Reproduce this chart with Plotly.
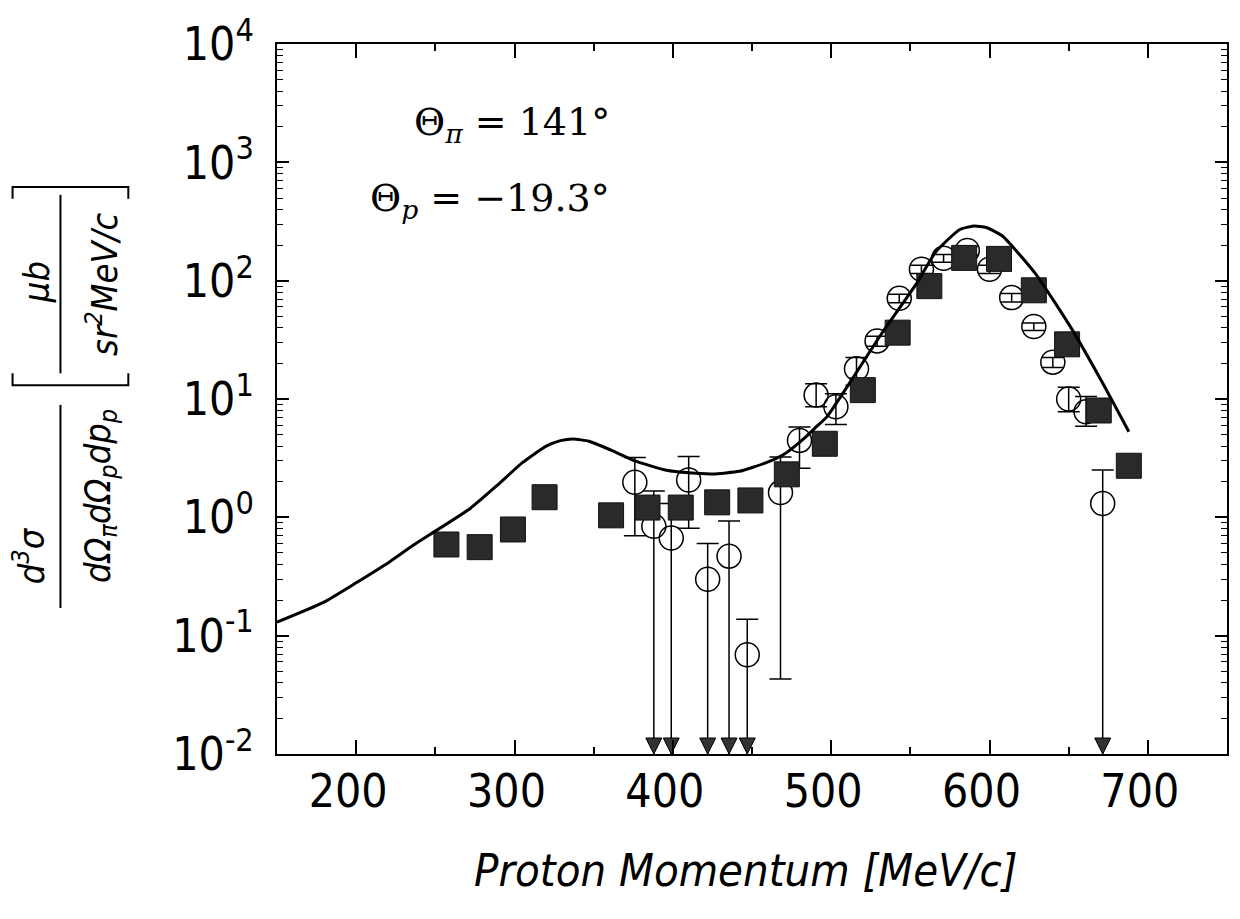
import plotly.graph_objects as go

# ---------------- data ----------------
# theory curve
curve_p = [150, 179, 200, 221, 236, 251, 272, 289, 305, 320, 329, 337, 347, 354, 362, 376,
           396, 410, 425, 442, 459, 470, 484, 491, 497, 502, 512, 532, 554, 566, 581,
           590, 598, 608, 629, 652, 671, 688]
curve_xs = [0.13, 0.19, 0.28, 0.42, 0.58, 0.78, 1.19, 1.86, 2.9, 4.0, 4.45, 4.6, 4.4, 4.05, 3.64, 3.0,
            2.5, 2.38, 2.33, 2.45, 2.9, 3.4, 4.8, 5.9, 7.0, 8.7, 13.9, 36, 95, 175, 270,
            290, 282, 240, 115, 39, 14, 5.3]

# filled squares
sq_p = [257, 278, 299, 319, 361, 384, 405, 428, 449, 472, 496, 520, 542, 562, 584, 606, 628, 649, 669, 688]
sq_xs = [0.59, 0.56, 0.79, 1.48, 1.04, 1.21, 1.21, 1.34, 1.39, 2.31, 4.19, 11.9, 36.4, 90, 156, 153, 83, 29, 8.0, 2.73]

# open circles with error bars
c_p = [376, 410, 468, 480, 490.5, 503, 516, 529, 543, 557, 571, 586, 600, 614, 628, 640, 650, 661]
c_xs = [1.98, 2.07, 1.62, 4.47, 10.8, 8.6, 18, 31, 71, 125, 155, 180, 125, 72, 41, 20.5, 10, 7.8]
c_hi = [3.2, 3.27, 3.24, 5.8, 13.5, 11.1, 22.4, 34, 77, 135, 167, 195, 135, 78, 44, 22.5, 12.6, 10.5]
c_lo = [0.70, 0.81, 0.043, 2.6, 8.6, 6.1, 13.1, 28, 65, 115, 143, 165, 115, 66, 38, 18.5, 7.8, 5.9]

# open circles whose lower error reaches zero (arrows)
u_p = [388, 399, 422, 435.5, 447, 671.5]
u_xs = [0.84, 0.67, 0.30, 0.47, 0.069, 1.31]
u_hi = [1.67, 1.31, 0.60, 0.93, 0.138, 2.51]

x_ticks = [200, 300, 400, 500, 600, 700]
y_ticks = [1e-2, 1e-1, 1e0, 1e1, 1e2, 1e3, 1e4]
y_ticktext = ["10<sup>-2</sup>", "10<sup>-1</sup>", "10<sup>0</sup>", "10<sup>1</sup>",
              "10<sup>2</sup>", "10<sup>3</sup>", "10<sup>4</sup>"]
Y_MIN = 1e-2

# ---------------- layout helpers ----------------
W, H = 1240, 919
L, R, T, B = 277, 1229, 34, 754


def px_x(px):
    return (px - L) / (R - L)


def px_y(py):
    return (B - py) / (B - T)


NARROW = "Liberation Sans Narrow, DejaVu Sans Condensed, Arial Narrow, sans-serif"
SERIF = "DejaVu Serif, Liberation Serif, serif"

fig = go.Figure()

# circles with full error bars
fig.add_trace(go.Scatter(
    x=c_p, y=c_xs, mode="markers",
    marker=dict(symbol="circle-open", size=24, color="black", line=dict(width=1.5, color="black")),
    error_y=dict(type="data", symmetric=False,
                 array=[h - v for h, v in zip(c_hi, c_xs)],
                 arrayminus=[v - lo for v, lo in zip(c_xs, c_lo)],
                 color="black", thickness=1.5, width=11),
    showlegend=False, hoverinfo="skip"))

# circles with error bars down to zero
fig.add_trace(go.Scatter(
    x=u_p, y=u_xs, mode="markers",
    marker=dict(symbol="circle-open", size=24, color="black", line=dict(width=1.5, color="black")),
    error_y=dict(type="data", symmetric=False,
                 array=[h - v for h, v in zip(u_hi, u_xs)],
                 arrayminus=list(u_xs),
                 color="black", thickness=1.5, width=11),
    showlegend=False, hoverinfo="skip"))

# arrow heads on the bottom axis
fig.add_trace(go.Scatter(
    x=u_p, y=[Y_MIN] * len(u_p), mode="markers",
    marker=dict(symbol="arrow-down", size=16, color="#333333", line=dict(width=1, color="black")),
    showlegend=False, hoverinfo="skip", cliponaxis=False))

# filled squares
fig.add_trace(go.Scatter(
    x=sq_p, y=sq_xs, mode="markers",
    marker=dict(symbol="square", size=25, color="#2a2a2a", line=dict(width=1, color="#111111")),
    showlegend=False, hoverinfo="skip"))

# theory curve
fig.add_trace(go.Scatter(
    x=curve_p, y=curve_xs, mode="lines",
    line=dict(color="black", width=3, shape="spline", smoothing=0.5),
    showlegend=False, hoverinfo="skip"))

minor_y = [k * 10 ** e for e in range(-2, 4) for k in range(2, 10)]

fig.update_xaxes(
    range=[150, 750], tickvals=x_ticks, ticktext=[str(v) for v in x_ticks],
    ticks="inside", ticklen=14, tickwidth=1.5, tickcolor="black",
    minor=dict(ticks="inside", ticklen=7, tickwidth=1.5, tickcolor="black", dtick=50, tick0=150),
    showline=True, linewidth=2, linecolor="black", mirror="ticks",
    showgrid=False, zeroline=False,
    tickfont=dict(family=NARROW, size=46, color="black"),
    ticklabelstandoff=-4, ticklabelshift=-8)

fig.update_yaxes(
    type="log", range=[-2, 4.0008], tickvals=y_ticks, ticktext=y_ticktext,
    ticks="inside", ticklen=12, tickwidth=1.5, tickcolor="black",
    minor=dict(ticks="inside", ticklen=6, tickwidth=1.2, tickcolor="black", tickvals=minor_y),
    showline=True, linewidth=2, linecolor="black", mirror="ticks",
    showgrid=False, zeroline=False,
    tickfont=dict(family=NARROW, size=46, color="black"),
    ticklabelstandoff=12)

annotations = []
# angle labels
annotations.append(dict(x=px_x(613), y=px_y(116), xref="paper", yref="paper",
                        text="Θ<sub><i>π</i></sub> = 141°", showarrow=False,
                        xanchor="right", yanchor="middle",
                        font=dict(family=SERIF, size=38, color="black")))
annotations.append(dict(x=px_x(613), y=px_y(193), xref="paper", yref="paper",
                        text="Θ<sub><i>p</i></sub> = −19.3°", showarrow=False,
                        xanchor="right", yanchor="middle",
                        font=dict(family=SERIF, size=38, color="black")))
# x title
annotations.append(dict(x=px_x(747), y=px_y(872), xref="paper", yref="paper",
                        text="<i>Proton Momentum [MeV/c]</i>", showarrow=False,
                        xanchor="center", yanchor="middle",
                        font=dict(family=NARROW, size=45, color="black")))
# y title pieces (rotated)
TF = dict(family=NARROW, size=36, color="black")
annotations.append(dict(x=px_x(28), y=px_y(553), xref="paper", yref="paper",
                        text="<i>d<sup>3</sup>σ</i>", showarrow=False, textangle=-90,
                        xanchor="center", yanchor="middle", font=TF))
annotations.append(dict(x=px_x(100), y=px_y(492), xref="paper", yref="paper",
                        text="<i>dΩ<sub>π</sub>dΩ<sub>p</sub>dp<sub>p</sub></i>", showarrow=False,
                        textangle=-90, xanchor="center", yanchor="middle", font=TF))
annotations.append(dict(x=px_x(36), y=px_y(276), xref="paper", yref="paper",
                        text="<i>μb</i>", showarrow=False, textangle=-90,
                        xanchor="center", yanchor="middle", font=TF))
annotations.append(dict(x=px_x(101), y=px_y(277), xref="paper", yref="paper",
                        text="<i>sr<sup>2</sup>MeV/c</i>", showarrow=False, textangle=-90,
                        xanchor="center", yanchor="middle", font=TF))

shapes = []
# fraction bars
shapes.append(dict(type="line", xref="paper", yref="paper",
                   x0=px_x(60), x1=px_x(60), y0=px_y(400), y1=px_y(606),
                   line=dict(color="black", width=2)))
shapes.append(dict(type="line", xref="paper", yref="paper",
                   x0=px_x(60), x1=px_x(60), y0=px_y(187), y1=px_y(368),
                   line=dict(color="black", width=2)))


def bracket(y, x0, x1, d):
    return (f"M {px_x(x0)},{px_y(y + d)} L {px_x(x0)},{px_y(y)} "
            f"L {px_x(x1)},{px_y(y)} L {px_x(x1)},{px_y(y + d)}")


shapes.append(dict(type="path", xref="paper", yref="paper", path=bracket(179, 12, 128, 12),
                   line=dict(color="black", width=2)))
shapes.append(dict(type="path", xref="paper", yref="paper", path=bracket(380, 12, 128, -12),
                   line=dict(color="black", width=2)))

fig.update_layout(
    width=W, height=H,
    margin=dict(l=L, r=W - R, t=T, b=H - B),
    plot_bgcolor="white", paper_bgcolor="white",
    annotations=annotations, shapes=shapes,
    showlegend=False)

fig.write_html("out.html")
